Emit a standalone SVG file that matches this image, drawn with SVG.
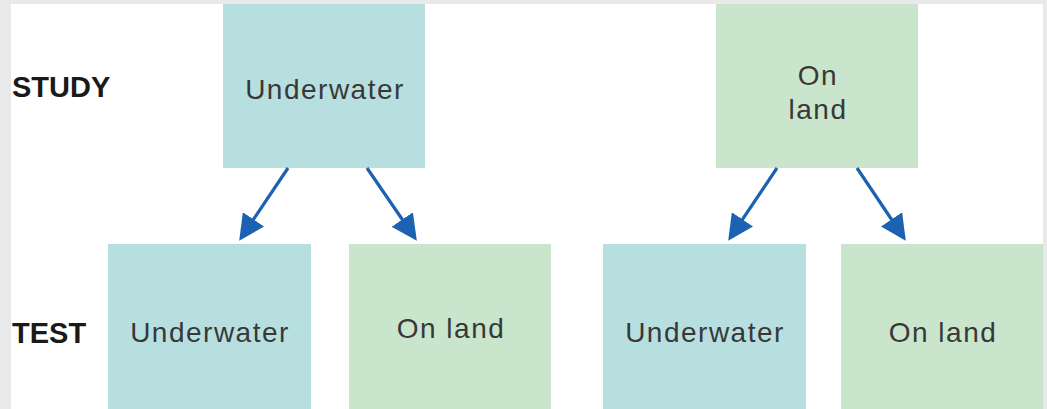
<svg xmlns="http://www.w3.org/2000/svg" width="1047" height="409" viewBox="0 0 1047 409">
  <style>
    .water { fill: #b8dfdf; }
    .land { fill: #c9e5cc; }
    .lbl { font-family: "Liberation Sans", Arial, sans-serif; font-size: 28px; letter-spacing: 1.5px; fill: #383838; text-anchor: middle; }
    .row { font-family: "Liberation Sans", Arial, sans-serif; font-size: 29px; font-weight: bold; fill: #1a1a1a; }
    .conn { stroke: #1b62b3; stroke-width: 3.2; fill: none; marker-end: url(#head); }
  </style>
  <defs>
    <marker id="head" markerWidth="8" markerHeight="8" refX="7" refY="4" orient="auto" markerUnits="strokeWidth">
      <path d="M0,0 L8,4 L0,8 Z" fill="#1b62b3"/>
    </marker>
  </defs>

  <!-- page frame -->
  <rect x="0" y="0" width="1047" height="409" fill="#e9e9e9"/>
  <rect x="11" y="4" width="1032" height="405" fill="#ffffff"/>

  <!-- row labels -->
  <text class="row" x="12" y="97">STUDY</text>
  <text class="row" x="12" y="343">TEST</text>

  <g id="study-underwater">
    <rect class="water" x="223" y="4" width="202" height="164"/>
    <text class="lbl" x="325" y="99">Underwater</text>
  </g>
  <g id="study-land">
    <rect class="land" x="716" y="4" width="202" height="164"/>
    <text class="lbl" x="818" y="85">On</text>
    <text class="lbl" x="818" y="119">land</text>
  </g>
  <g id="test-underwater-1">
    <rect class="water" x="108" y="244" width="203" height="165"/>
    <text class="lbl" x="210" y="342">Underwater</text>
  </g>
  <g id="test-land-1">
    <rect class="land" x="349" y="244" width="202" height="165"/>
    <text class="lbl" x="451" y="338">On land</text>
  </g>
  <g id="test-underwater-2">
    <rect class="water" x="603" y="244" width="203" height="165"/>
    <text class="lbl" x="705" y="342">Underwater</text>
  </g>
  <g id="test-land-2">
    <rect class="land" x="841" y="244" width="202" height="165"/>
    <text class="lbl" x="943" y="342">On land</text>
  </g>

  <g id="connectors">
    <line class="conn" x1="288" y1="168" x2="241" y2="238"/>
    <line class="conn" x1="367" y1="168" x2="415" y2="238"/>
    <line class="conn" x1="777" y1="168" x2="730" y2="238"/>
    <line class="conn" x1="857" y1="168" x2="904" y2="238"/>
  </g>
</svg>
